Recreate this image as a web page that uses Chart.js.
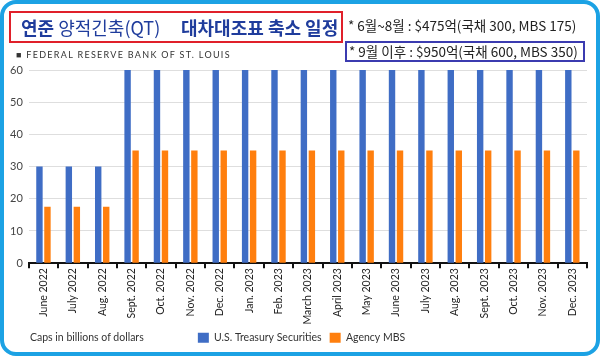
<!DOCTYPE html>
<html>
<head>
<meta charset="utf-8">
<title>연준 양적긴축(QT) 대차대조표 축소 일정</title>
<script src="https://cdn.jsdelivr.net/npm/chart.js"></script>
<style>
  html, body { margin: 0; padding: 0; background: #fff; }
  #wrap { position: relative; width: 600px; height: 359px; overflow: hidden; }
  #frame { position: absolute; left: 0; top: 0; width: 592px; height: 348px;
           border: 4px solid #1ca2e4; border-radius: 16px; pointer-events: none; }
  #chart { position: absolute; left: 0; top: 0; }
  .t { position: absolute; white-space: nowrap; }
  .k { font-family: "Noto Sans CJK KR"; color: #1f3c9c; font-size: 18px; line-height: 22px; }
  .k b { font-weight: 700; }
  #titlebox { left: 9px; top: 11px; width: 330px; height: 28px; border: 2px solid #e0202a; }
  #note1 { left: 348px; top: 15px; font-family: "Noto Sans CJK KR"; font-size: 13.5px; color: #222; line-height: 20px; }
  #note2box { left: 345px; top: 41px; width: 236px; height: 17px; border: 2px solid #3b3bb0; }
  #note2 { left: 349px; top: 41px; font-family: "Noto Sans CJK KR"; font-size: 13.5px; color: #222; line-height: 20px; }
  #src { left: 16px; top: 49px; font-family: "Lato"; font-size: 9px; letter-spacing: 1.3px; color: #333; }
  #caps { left: 30px; top: 331px; font-family: "Lato"; font-size: 10.5px; color: #333; }
</style>
</head>
<body>
<div id="wrap">
  <canvas id="chart" width="600" height="359"></canvas>
  <div class="t" id="titlebox"></div>
  <div class="t k" style="left:21px; top:16px;"><b>연준</b> 양적긴축(QT)</div>
  <div class="t k" style="left:181px; top:16px;"><b>대차대조표 축소 일정</b></div>
  <div class="t" id="note1">* 6월~8월 : $475억(국채 300, MBS 175)</div>
  <div class="t" id="note2box"></div>
  <div class="t" id="note2">* 9월 이후 : $950억(국채 600, MBS 350)</div>
  <div class="t" id="src">■ FEDERAL RESERVE BANK OF ST. LOUIS</div>
  <div class="t" id="caps">Caps in billions of dollars</div>
  <div id="frame"></div>
</div>
<script>
var months = ['June 2022', 'July 2022', 'Aug. 2022', 'Sept. 2022', 'Oct. 2022', 'Nov. 2022',
              'Dec. 2022', 'Jan. 2023', 'Feb. 2023', 'March 2023', 'April 2023', 'May 2023',
              'June 2023', 'July 2023', 'Aug. 2023', 'Sept. 2023', 'Oct. 2023', 'Nov. 2023', 'Dec. 2023'];
var treasury = [30, 30, 30, 60, 60, 60, 60, 60, 60, 60, 60, 60, 60, 60, 60, 60, 60, 60, 60];
var mbs = [17.5, 17.5, 17.5, 35, 35, 35, 35, 35, 35, 35, 35, 35, 35, 35, 35, 35, 35, 35, 35];
var yTicks = [0, 10, 20, 30, 40, 50, 60];

// nudge the legend a little right, like the original
var legendShift = {
    id: 'legendShift',
    afterLayout: function(chart) {
        if (chart.legend) { chart.legend.left += 6; chart.legend.right += 6; }
    }
};

var ctx = document.getElementById('chart').getContext('2d');
var chart = new Chart(ctx, {
    type: 'bar',
    data: {
        labels: months,
        datasets: [{
            label: 'U.S. Treasury Securities',
            data: treasury,
            backgroundColor: '#3f6dc5'
        }, {
            label: 'Agency MBS',
            data: mbs,
            backgroundColor: '#ff7f0e'
        }]
    },
    options: {
        responsive: false,
        animation: false,
        categoryPercentage: 0.545,
        barPercentage: 0.8,
        layout: { padding: { left: 4, right: 13, top: 70, bottom: 6 } },
        plugins: {
            legend: {
                position: 'bottom',
                labels: {
                    boxWidth: 11, boxHeight: 10, padding: 8, color: '#333',
                    font: { family: 'Lato', size: 10.5 }
                }
            },
            tooltip: { enabled: false }
        },
        scales: {
            x: {
                grid: { drawOnChartArea: false, drawTicks: true, tickLength: 5, color: '#111', lineWidth: 2 },
                border: { display: true, color: '#111', width: 2 },
                ticks: { minRotation: 90, maxRotation: 90, padding: 0, color: '#222',
                         font: { family: 'Lato', size: 10.5 } }
            },
            y: {
                min: 0, max: 60,
                afterBuildTicks: function(scale) { scale.ticks = yTicks.map(function(v) { return { value: v }; }); },
                grid: { color: '#dedede', lineWidth: 1, drawTicks: false },
                border: { display: false },
                ticks: { padding: 6, color: '#444', font: { family: 'Lato', size: 11 } }
            }
        }
    },
    plugins: [legendShift]
});
</script>
</body>
</html>
